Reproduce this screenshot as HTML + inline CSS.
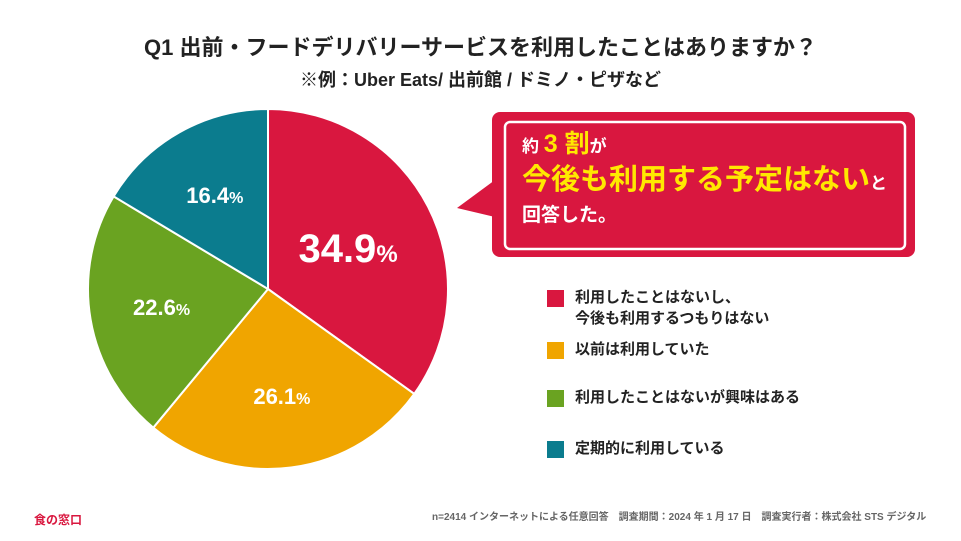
<!DOCTYPE html>
<html><head><meta charset="utf-8"><style>
body{margin:0;width:961px;height:541px;background:#fff;overflow:hidden;font-family:"Liberation Sans","Noto Sans CJK JP",sans-serif;position:relative}
.abs{position:absolute}
.leg{position:absolute;left:547px;font-size:15px;font-weight:bold;color:#222;line-height:21px}
.sw{position:absolute;left:0;top:3px;width:17px;height:17px}
.lt{margin-left:28px}
</style></head><body>
<div class="abs" style="left:0;width:961px;top:30px;text-align:center;font-size:22px;font-weight:bold;color:#222">Q1 出前・フードデリバリーサービスを利用したことはありますか？</div>
<div class="abs" style="left:0;width:961px;top:66px;text-align:center;font-size:18px;font-weight:bold;color:#222">※例：Uber Eats/ 出前館 / ドミノ・ピザなど</div>
<svg class="abs" style="left:0;top:0" width="961" height="541" id="pie"></svg>
<svg class="abs" style="left:450px;top:105px" width="480" height="160">
<path d="M7,103 L45,75 L45,112 Z" fill="#d9173f"/>
<rect x="42" y="7" width="423" height="145" rx="8" fill="#d9173f"/>
<rect x="55" y="17" width="400" height="127" rx="5" fill="none" stroke="#fff" stroke-width="2.5"/>
</svg>
<div class="abs" style="left:522px;top:132px;color:#fff;font-weight:bold;font-size:17px;line-height:1">
<div style="height:32px">約 <span style="color:#ffe800;font-size:25px">3 割</span>が</div>
<div style="height:36px;margin-top:2px"><span style="color:#ffe800;font-size:29px">今後も利用する予定はない</span>と</div>
<div style="font-size:19px;margin-top:4px">回答した。</div>
</div>
<div class="leg" style="top:287px"><div class="sw" style="background:#d9173f"></div><div class="lt">利用したことはないし、<br>今後も利用するつもりはない</div></div>
<div class="leg" style="top:339px"><div class="sw" style="background:#f0a500"></div><div class="lt">以前は利用していた</div></div>
<div class="leg" style="top:387px"><div class="sw" style="background:#6aa321"></div><div class="lt">利用したことはないが興味はある</div></div>
<div class="leg" style="top:438px"><div class="sw" style="background:#0b7c8e"></div><div class="lt">定期的に利用している</div></div>
<div class="abs" style="left:34px;top:511px;font-size:12px;font-weight:bold;color:#d9173f">食の窓口</div>
<div class="abs" style="left:432px;top:508px;font-size:10px;font-weight:bold;color:#666;white-space:nowrap">n=2414 インターネットによる任意回答　調査期間：2024 年 1 月 17 日　調査実行者：株式会社 STS デジタル</div>
<script>
const categories=["利用したことはないし、今後も利用するつもりはない","以前は利用していた","利用したことはないが興味はある","定期的に利用している"];
const values=[34.9,26.1,22.6,16.4];
const colors=["#d9173f","#f0a500","#6aa321","#0b7c8e"];
const svg=document.getElementById('pie');
const cx=268,cy=289,r=180,ns="http://www.w3.org/2000/svg";
const total=values.reduce((a,b)=>a+b,0);
let acc=0;
function pt(f,rad){const a=f*2*Math.PI-Math.PI/2;return [cx+rad*Math.cos(a),cy+rad*Math.sin(a)];}
values.forEach((v,i)=>{
 const f0=acc/total,f1=(acc+v)/total;acc+=v;
 const p0=pt(f0,r),p1=pt(f1,r);
 const p=document.createElementNS(ns,'path');
 p.setAttribute('d',`M${cx},${cy} L${p0[0]},${p0[1]} A${r},${r} 0 ${f1-f0>0.5?1:0} 1 ${p1[0]},${p1[1]} Z`);
 p.setAttribute('fill',colors[i]);p.setAttribute('stroke','#fff');p.setAttribute('stroke-width','2');
 
 
 svg.appendChild(p);
 const lp=pt((f0+f1)/2,i==0?r*0.5:r*0.6);
 const t=document.createElementNS(ns,'text');
 t.setAttribute('x',lp[0]);t.setAttribute('y',lp[1]+(i==0?14:8));t.setAttribute('text-anchor','middle');
 t.setAttribute('fill','#fff');t.setAttribute('font-weight','bold');
 t.setAttribute('font-size',i==0?40:22);
 t.innerHTML=v.toFixed(1)+'<tspan font-size="'+(i==0?24:16)+'">%</tspan>';
 
 
 svg.appendChild(t);
});
</script>
</body></html>
